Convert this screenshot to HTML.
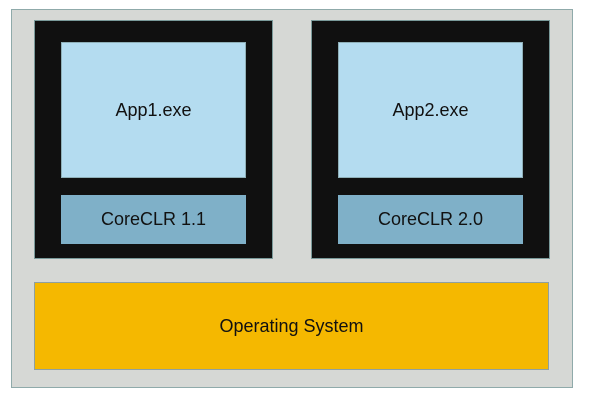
<!DOCTYPE html>
<html><head><style>
body{margin:0;width:595px;height:400px;background:#fff;position:relative;font-family:"Liberation Sans",sans-serif;overflow:hidden}
div{position:absolute;box-sizing:border-box}
.t{display:flex;align-items:center;justify-content:center;color:#111;font-size:18px}
</style></head><body>
<div style="left:11px;top:9px;width:562px;height:379px;background:#d6d8d5;border:1px solid #8faaaa"></div>
<div style="left:34px;top:20px;width:239px;height:239px;background:#101010;border:1px solid #7a9a9a"></div>
<div class="t" style="left:61px;top:42px;width:185px;height:136px;background:#b4dcf0;border:1px solid #8fb0b8">App1.exe</div>
<div class="t" style="left:61px;top:195px;width:185px;height:49px;background:#7fb0c8">CoreCLR 1.1</div>
<div style="left:311px;top:20px;width:239px;height:239px;background:#101010;border:1px solid #7a9a9a"></div>
<div class="t" style="left:338px;top:42px;width:185px;height:136px;background:#b4dcf0;border:1px solid #8fb0b8">App2.exe</div>
<div class="t" style="left:338px;top:195px;width:185px;height:49px;background:#7fb0c8">CoreCLR 2.0</div>
<div class="t" style="left:34px;top:282px;width:515px;height:88px;background:#f5b800;border:1px solid #8fa0a0">Operating System</div>
</body></html>
